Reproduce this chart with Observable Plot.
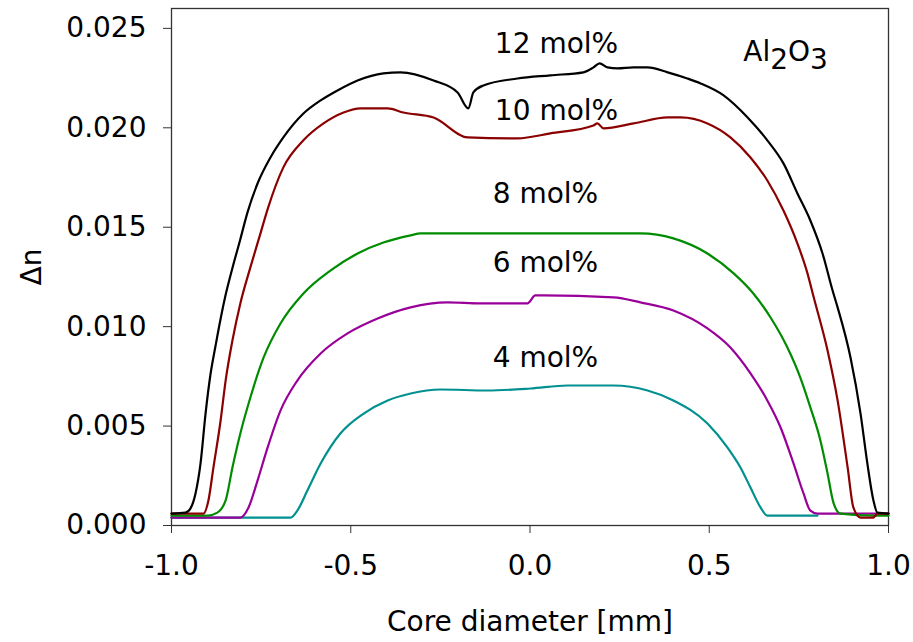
<!DOCTYPE html>
<html>
<head>
<meta charset="utf-8">
<script src="https://cdn.jsdelivr.net/npm/d3@7"></script>
<script src="https://cdn.jsdelivr.net/npm/@observablehq/plot@0.6"></script>
<style>
  html, body { margin: 0; padding: 0; background: white; }
</style>
</head>
<body>
<div id="chart"></div>
<script>
// ---- Data ----
const seriesNames = ["4 mol%", "6 mol%", "8 mol%", "10 mol%", "12 mol%"];
const seriesColors = ["#009090", "#990099", "#008c00", "#8b0000", "#000000"];

const diam4 = [-1.0, -0.668, -0.649, -0.621, -0.584, -0.529, -0.464, -0.397, -0.333, -0.250, -0.119, 0.001, 0.105, 0.233, 0.328, 0.400, 0.495, 0.551, 0.587, 0.615, 0.643, 0.662, 0.802];
const dn4   = [0.0004, 0.0004, 0.00075, 0.00176, 0.00312, 0.00463, 0.00563, 0.00629, 0.00664, 0.00684, 0.00679, 0.00689, 0.00704, 0.00704, 0.00679, 0.00629, 0.00513, 0.00392, 0.00292, 0.00191, 0.00091, 0.0005, 0.0005];

const diam6 = [-1.0, -0.808, -0.785, -0.760, -0.732, -0.696, -0.649, -0.584, -0.509, -0.425, -0.333, -0.230, -0.138, -0.007, 0.015, 0.038, 0.233, 0.308, 0.400, 0.495, 0.559, 0.615, 0.662, 0.699, 0.735, 0.763, 0.782, 0.802, 1.0];
const dn6   = [0.0004, 0.0004, 0.00091, 0.00226, 0.00392, 0.00578, 0.00729, 0.00865, 0.00966, 0.01041, 0.01097, 0.01122, 0.01117, 0.01117, 0.01157, 0.01157, 0.01147, 0.01122, 0.01081, 0.00991, 0.00895, 0.00765, 0.00629, 0.00493, 0.00312, 0.00161, 0.00075, 0.0006, 0.0006];

const diam8 = [-1.0, -0.900, -0.872, -0.849, -0.830, -0.808, -0.780, -0.743, -0.696, -0.632, -0.556, -0.481, -0.409, -0.333, -0.305, 0.0, 0.252, 0.308, 0.400, 0.495, 0.568, 0.623, 0.671, 0.718, 0.754, 0.782, 0.810, 0.830, 0.847, 0.866, 0.958, 1.0];
const dn8   = [0.0005, 0.0005, 0.00065, 0.00126, 0.00292, 0.00463, 0.00644, 0.00845, 0.01016, 0.01167, 0.01283, 0.01368, 0.01423, 0.01459, 0.01469, 0.01469, 0.01469, 0.01469, 0.01444, 0.01368, 0.01268, 0.01167, 0.01046, 0.00895, 0.00744, 0.00594, 0.00428, 0.00262, 0.00111, 0.0006, 0.0005, 0.0005];

const diam10 = [-1.0, -0.911, -0.897, -0.883, -0.863, -0.849, -0.830, -0.808, -0.780, -0.752, -0.732, -0.688, -0.632, -0.576, -0.520, -0.473, -0.397, -0.353, -0.269, -0.174, -0.035, 0.057, 0.177, 0.188, 0.205, 0.289, 0.384, 0.420, 0.495, 0.559, 0.615, 0.662, 0.707, 0.746, 0.774, 0.791, 0.830, 0.858, 0.886, 0.902, 0.922, 0.958, 0.969, 1.0];
const dn10   = [0.0006, 0.0006, 0.00126, 0.00292, 0.00528, 0.00729, 0.00931, 0.01117, 0.01298, 0.01468, 0.01590, 0.01801, 0.01937, 0.02022, 0.02077, 0.02098, 0.02098, 0.02077, 0.02052, 0.01952, 0.01947, 0.01972, 0.02012, 0.02022, 0.01997, 0.02022, 0.02052, 0.02052, 0.02022, 0.01952, 0.01851, 0.01735, 0.01584, 0.01418, 0.01268, 0.0115, 0.0088, 0.00629, 0.00292, 0.00091, 0.0004, 0.0004, 0.0006, 0.0006];

const diam12 = [-1.0, -0.961, -0.947, -0.933, -0.919, -0.905, -0.891, -0.877, -0.863, -0.849, -0.830, -0.808, -0.788, -0.760, -0.724, -0.688, -0.632, -0.584, -0.537, -0.481, -0.409, -0.361, -0.269, -0.202, -0.172, -0.158, -0.130, -0.035, 0.057, 0.149, 0.177, 0.194, 0.216, 0.244, 0.289, 0.328, 0.384, 0.439, 0.476, 0.540, 0.607, 0.662, 0.707, 0.746, 0.782, 0.816, 0.844, 0.858, 0.894, 0.922, 0.941, 0.958, 0.969, 1.0];
const dn12   = [0.0006, 0.00065, 0.00086, 0.00161, 0.00312, 0.00563, 0.00763, 0.00905, 0.01040, 0.01160, 0.01295, 0.01440, 0.01575, 0.01720, 0.01851, 0.01952, 0.02072, 0.02138, 0.02188, 0.02238, 0.02274, 0.02279, 0.02238, 0.02178, 0.02098, 0.02178, 0.02213, 0.02248, 0.02264, 0.02279, 0.02304, 0.02324, 0.02304, 0.02299, 0.02304, 0.02304, 0.02279, 0.02248, 0.02223, 0.02163, 0.02052, 0.01937, 0.01821, 0.0167, 0.01534, 0.01368, 0.01182, 0.01097, 0.00845, 0.00563, 0.00312, 0.00126, 0.00065, 0.0006];

const xTicks = [-1.0, -0.5, 0.0, 0.5, 1.0];
const yTicks = [0.000, 0.005, 0.010, 0.015, 0.020, 0.025];

const labelTexts = ["12 mol%", "10 mol%", "8 mol%", "6 mol%", "4 mol%", "Al2O3"];
const labelX = [0.074, 0.074, 0.043, 0.043, 0.043, 0.713];
const labelY = [0.0242, 0.02082, 0.01665, 0.01318, 0.0084, 0.0238];

// ---- Build table ----
const diams = [diam4, diam6, diam8, diam10, diam12];
const dns = [dn4, dn6, dn8, dn10, dn12];
const rows = [];
seriesNames.forEach((name, i) => {
  diams[i].forEach((d, j) => rows.push({series: name, diam: d, dn: dns[i][j]}));
});
const labels = labelTexts.map((t, i) => ({text: t, x: labelX[i], y: labelY[i]}));

const chart = Plot.plot({
  width: 913,
  height: 642,
  marginLeft: 171,
  marginRight: 25,
  marginTop: 8,
  marginBottom: 117,
  style: {fontFamily: "DejaVu Sans", fontSize: "28px", background: "white", color: "black"},
  x: {domain: [-1, 1]},
  y: {domain: [0, 0.026]},
  color: {domain: seriesNames, range: seriesColors},
  marks: [
    Plot.frame({stroke: "#333", strokeWidth: 1.3}),
    Plot.line(rows, {x: "diam", y: "dn", z: "series", stroke: "series", strokeWidth: 2.2, curve: "monotone-x"}),
    Plot.axisX({ticks: xTicks, tickFormat: d => d.toFixed(1), tickSize: 8, tickPadding: 22, fontSize: 28,
      label: "Core diameter [mm]", labelAnchor: "center", labelOffset: 105, labelArrow: "none", stroke: "#333"}),
    Plot.axisY({ticks: yTicks, tickFormat: d => d.toFixed(3), tickSize: 8, tickPadding: 17, fontSize: 28,
      label: "Δn", labelAnchor: "center", labelOffset: 150, labelArrow: "none", stroke: "#333"}),
    Plot.text(labels, {x: "x", y: "y", text: "text", fontSize: 28, fill: "black", textAnchor: "middle"})
  ]
});
document.getElementById("chart").appendChild(chart);

// subscripts for Al2O3
d3.select(chart).selectAll("text").filter(function() { return this.textContent === "Al2O3"; })
  .each(function() {
    const t = d3.select(this);
    t.text(null);
    t.append("tspan").text("Al");
    t.append("tspan").attr("dy", "8").text("2");
    t.append("tspan").attr("dy", "-8").text("O");
    t.append("tspan").attr("dy", "8").text("3");
  });
</script>
</body>
</html>
